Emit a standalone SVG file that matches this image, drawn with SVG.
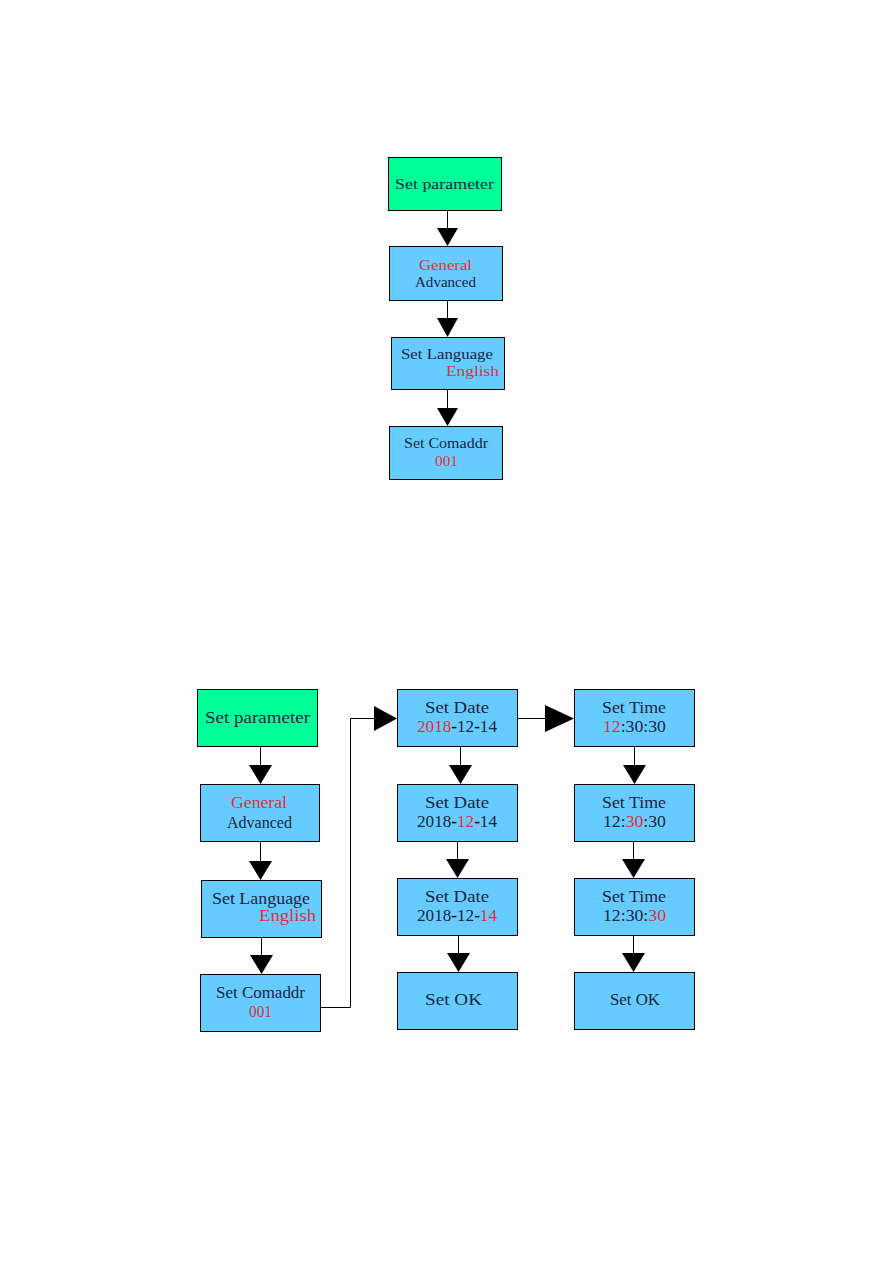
<svg xmlns="http://www.w3.org/2000/svg" width="893" height="1263" viewBox="0 0 893 1263">
<style>
.g{fill:#00FF99;stroke:#000;stroke-width:1}
.b{fill:#66CCFF;stroke:#000;stroke-width:1}
text{font-family:"Liberation Serif","DejaVu Serif",serif;fill:#1a2440}
.s{font-size:15px}
.l{font-size:16px}
.r{fill:#e0303c}
.k{fill:#000;font-weight:bold}
.c line,.c polyline{stroke:#000;stroke-width:1;fill:none}
.c polygon{fill:#000}
</style>
<rect width="893" height="1263" fill="#fff"/>
<!-- Top diagram -->
<g id="t_param"><rect class="g" x="388.5" y="157.5" width="113" height="53"/><text class="s" x="395" y="189" textLength="99" lengthAdjust="spacingAndGlyphs">Set parameter</text></g>
<g id="t_general"><rect class="b" x="389.5" y="246.5" width="113" height="54"/><text class="s r" x="419" y="270" textLength="53" lengthAdjust="spacingAndGlyphs">General</text><text class="s" x="415" y="287" textLength="61" lengthAdjust="spacingAndGlyphs">Advanced</text></g>
<g id="t_lang"><rect class="b" x="391.5" y="337.5" width="113" height="52"/><text class="s" x="401" y="359" textLength="92" lengthAdjust="spacingAndGlyphs">Set Language</text><text class="s r" x="446" y="376" textLength="53" lengthAdjust="spacingAndGlyphs">English</text></g>
<g id="t_comaddr"><rect class="b" x="389.5" y="426.5" width="113" height="53"/><text class="s" x="404" y="448" textLength="84" lengthAdjust="spacingAndGlyphs">Set Comaddr</text><text class="s r" x="435" y="466" textLength="23" lengthAdjust="spacingAndGlyphs">001</text></g>
<!-- Bottom diagram -->
<g id="b_param"><rect class="g" x="197.5" y="689.5" width="120" height="57"/><text class="l" x="205" y="723" textLength="105" lengthAdjust="spacingAndGlyphs">Set parameter</text></g>
<g id="b_general"><rect class="b" x="200.5" y="784.5" width="119" height="57"/><text class="l r" x="231" y="808" textLength="56" lengthAdjust="spacingAndGlyphs">General</text><text class="l" x="227" y="828" textLength="65" lengthAdjust="spacingAndGlyphs">Advanced</text></g>
<g id="b_lang"><rect class="b" x="201.5" y="880.5" width="120" height="57"/><text class="l" x="212" y="904" textLength="98" lengthAdjust="spacingAndGlyphs">Set Language</text><text class="l r" x="259" y="921" textLength="57" lengthAdjust="spacingAndGlyphs">English</text></g>
<g id="b_comaddr"><rect class="b" x="200.5" y="974.5" width="120" height="57"/><text class="l" x="216" y="998" textLength="89" lengthAdjust="spacingAndGlyphs">Set Comaddr</text><text class="l r" x="249" y="1017" textLength="23" lengthAdjust="spacingAndGlyphs">001</text></g>
<g id="b_date1"><rect class="b" x="397.5" y="689.5" width="120" height="57"/><text class="l" x="425" y="713" textLength="64" lengthAdjust="spacingAndGlyphs">Set Date</text><text class="l" x="417" y="732" textLength="80" lengthAdjust="spacingAndGlyphs"><tspan class="r">2018</tspan><tspan class="k">-</tspan>12<tspan class="k">-</tspan>14</text></g>
<g id="b_date2"><rect class="b" x="397.5" y="784.5" width="120" height="57"/><text class="l" x="425" y="808" textLength="64" lengthAdjust="spacingAndGlyphs">Set Date</text><text class="l" x="417" y="827" textLength="80" lengthAdjust="spacingAndGlyphs">2018<tspan class="k">-</tspan><tspan class="r">12</tspan><tspan class="k">-</tspan>14</text></g>
<g id="b_date3"><rect class="b" x="397.5" y="878.5" width="120" height="57"/><text class="l" x="425" y="902" textLength="64" lengthAdjust="spacingAndGlyphs">Set Date</text><text class="l" x="417" y="921" textLength="80" lengthAdjust="spacingAndGlyphs">2018<tspan class="k">-</tspan>12<tspan class="k">-</tspan><tspan class="r">14</tspan></text></g>
<g id="b_dateok"><rect class="b" x="397.5" y="972.5" width="120" height="57"/><text class="l" x="425" y="1005" textLength="57" lengthAdjust="spacingAndGlyphs">Set OK</text></g>
<g id="b_time1"><rect class="b" x="574.5" y="689.5" width="120" height="57"/><text class="l" x="602" y="713" textLength="64" lengthAdjust="spacingAndGlyphs">Set Time</text><text class="l" x="603" y="732" textLength="63" lengthAdjust="spacingAndGlyphs"><tspan class="r">12</tspan>:30:30</text></g>
<g id="b_time2"><rect class="b" x="574.5" y="784.5" width="120" height="57"/><text class="l" x="602" y="808" textLength="64" lengthAdjust="spacingAndGlyphs">Set Time</text><text class="l" x="603" y="827" textLength="63" lengthAdjust="spacingAndGlyphs">12:<tspan class="r">30</tspan>:30</text></g>
<g id="b_time3"><rect class="b" x="574.5" y="878.5" width="120" height="57"/><text class="l" x="602" y="902" textLength="64" lengthAdjust="spacingAndGlyphs">Set Time</text><text class="l" x="603" y="921" textLength="63" lengthAdjust="spacingAndGlyphs">12:30:<tspan class="r">30</tspan></text></g>
<g id="b_timeok"><rect class="b" x="574.5" y="972.5" width="120" height="57"/><text class="l" x="610" y="1005" textLength="50" lengthAdjust="spacingAndGlyphs">Set OK</text></g>
<!-- Connectors -->
<g class="c" id="connectors">
<line x1="447.5" y1="210" x2="447.5" y2="229"/><polygon points="437,228 458,228 447.5,246"/>
<line x1="447.5" y1="300" x2="447.5" y2="319"/><polygon points="437,318 458,318 447.5,337"/>
<line x1="447.5" y1="389" x2="447.5" y2="409"/><polygon points="437,408 458,408 447.5,426"/>
<line x1="260.5" y1="746" x2="260.5" y2="766"/><polygon points="249,765 272,765 260.5,784"/>
<line x1="260.5" y1="841" x2="260.5" y2="862"/><polygon points="249,861 272,861 260.5,880"/>
<line x1="261.5" y1="937" x2="261.5" y2="956"/><polygon points="250,955 273,955 261.5,974"/>
<line x1="460.5" y1="746" x2="460.5" y2="766"/><polygon points="449,765 472,765 460.5,784"/>
<line x1="457.5" y1="841" x2="457.5" y2="860"/><polygon points="446,859 469,859 457.5,878"/>
<line x1="458.5" y1="935" x2="458.5" y2="954"/><polygon points="447,953 470,953 458.5,972"/>
<line x1="634.5" y1="746" x2="634.5" y2="766"/><polygon points="623,765 646,765 634.5,784"/>
<line x1="633.5" y1="841" x2="633.5" y2="860"/><polygon points="622,859 645,859 633.5,878"/>
<line x1="633.5" y1="935" x2="633.5" y2="954"/><polygon points="622,953 645,953 633.5,972"/>
<polyline points="320,1007.5 350.5,1007.5 350.5,718.5 375,718.5"/><polygon points="374,706 374,731 397,718.5"/>
<line x1="517" y1="718.5" x2="546" y2="718.5"/><polygon points="545,705 545,732 574,718.5"/>
</g>
</svg>
